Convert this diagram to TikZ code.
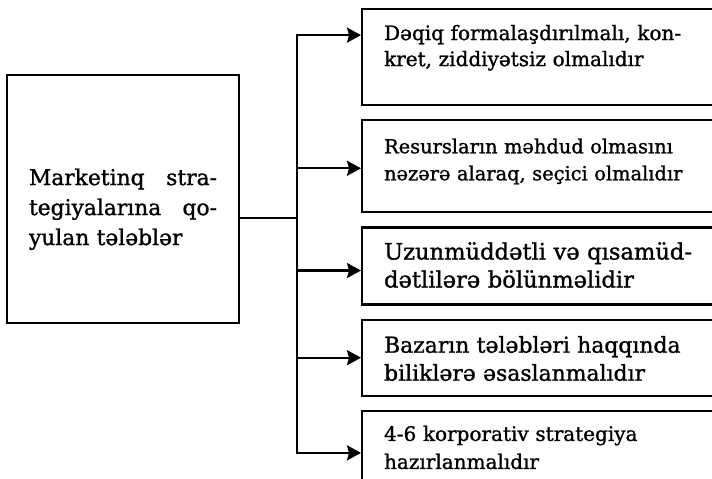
\documentclass[tikz,border=0pt]{standalone}
\usepackage{fontspec}
\setmainfont{DejaVu Serif}[FakeBold=1.2]
\usetikzlibrary{shapes,arrows.meta,positioning,calc}

\begin{document}
\begin{tikzpicture}[
    x=1pt, y=-1pt,
    node distance=13pt,
    goalbox/.style={rectangle, draw, line width=2.2pt, minimum width=232pt, minimum height=248pt, text width=188pt, align=left, inner xsep=22pt, inner ysep=0pt, font=\fontsize{21.8}{30}\selectfont},
    reqbox/.style={rectangle, draw, line width=2.2pt, minimum width=400pt, text width=356pt, align=left, inner xsep=22pt, inner ysep=0pt},
    line/.style={line width=2.2pt},
    arrow/.style={-{Stealth[length=14pt, width=15pt, inset=2pt]}, line width=2.2pt}
]
\useasboundingbox (0,0) rectangle (712,479);

% --- Left box ---
\node[goalbox, text height=37pt] (goal) at (123,199)
    {\makebox[188pt][l]{Marketinq\hfill stra-}\\
     \makebox[188pt][l]{tegiyalarına\hfill qo-}\\
     yulan tələblər};

% --- Requirements ---
\node[reqbox, anchor=north west, text height=31pt, text depth=65pt,
      font=\fontsize{20}{26}\selectfont] (req1) at (361,8)
    {Dəqiq formalaşdırılmalı, kon-\\kret, ziddiyətsiz olmalıdır};
\node[reqbox, below=of req1, text height=33pt, text depth=59pt,
      font=\fontsize{19.4}{27}\selectfont] (req2)
    {Resursların məhdud olmasını\\nəzərə alaraq, seçici olmalıdır};
\node[reqbox, below=of req2, text height=32pt, text depth=45pt,
      font=\fontsize{22.6}{28}\selectfont] (req3)
    {Uzunmüddətli və qısamüd-\\dətlilərə bölünməlidir};
\node[reqbox, below=of req3, text height=33pt, text depth=43pt,
      font=\fontsize{21.9}{28}\selectfont] (req4)
    {Bazarın tələbləri haqqında\\biliklərə əsaslanmalıdır};
\node[reqbox, below=of req4, text height=30pt, text depth=60pt,
      font=\fontsize{20}{28}\selectfont] (req5)
    {4-6 korporativ strategiya\\hazırlanmalıdır};

% --- Connectors ---
\coordinate (fork) at (297,218);
\draw[line] (goal.east |- fork) -- (fork);
\draw[arrow] (fork) |- ([yshift=22pt]req1.west);
\draw[arrow] (fork) |- ([yshift=-2pt]req2.west);
\draw[arrow] (fork) |- ([yshift=-4.5pt]req3.west);
\draw[arrow] (fork) |- (req4.west);
\draw[arrow] (fork) |- ([yshift=3pt]req5.west);

\end{tikzpicture}
\end{document}
